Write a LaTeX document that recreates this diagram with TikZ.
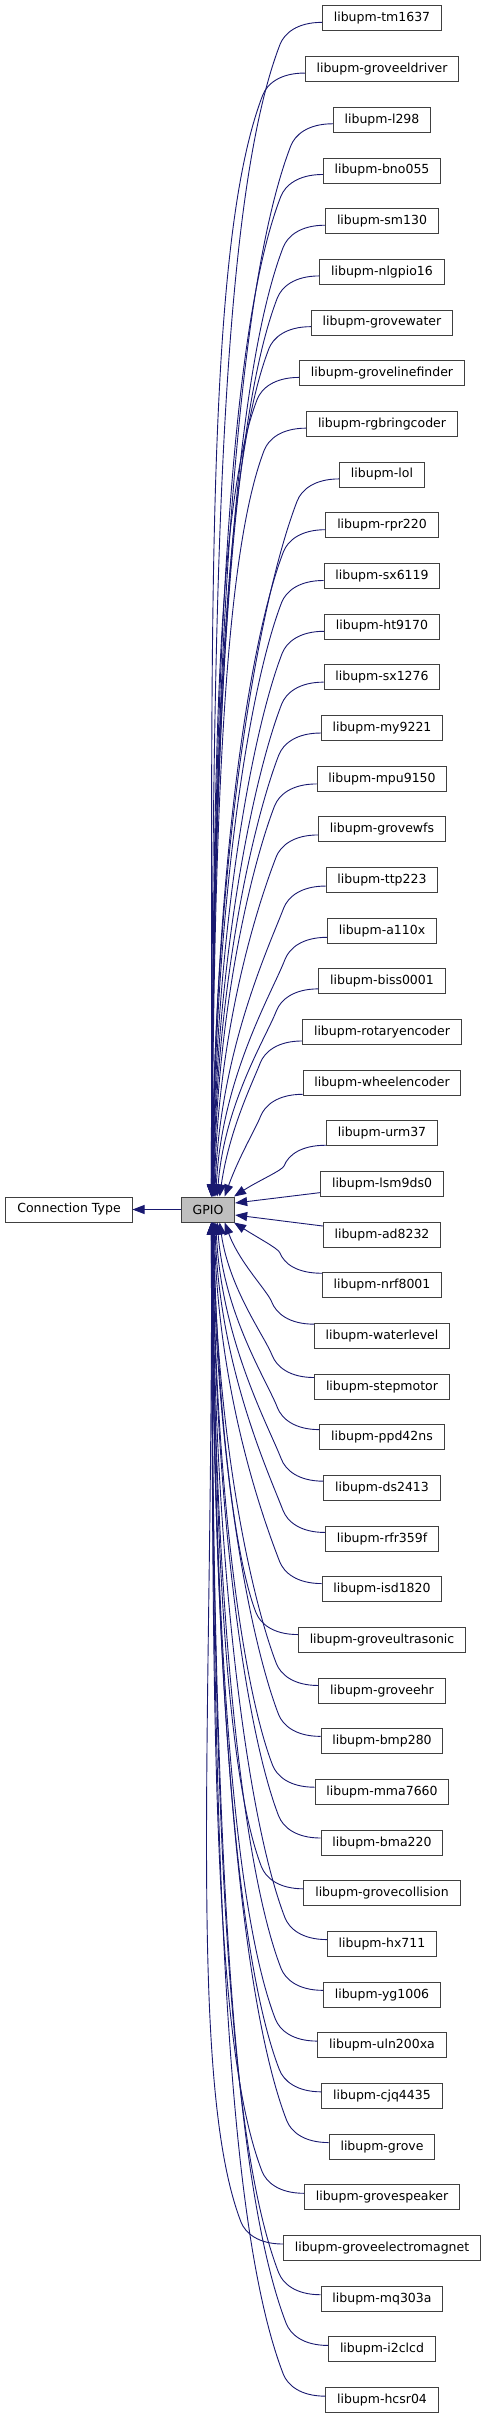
\documentclass[tikz,border=0pt]{standalone}
\usepackage{fontspec}
\setmainfont{DejaVu Sans}
\usetikzlibrary{arrows.meta}
\definecolor{edgeblue}{HTML}{191970}
\definecolor{gpiogray}{HTML}{BFBFBF}

\begin{document}
\begin{tikzpicture}[
    x=1pt, y=-1pt,
    >={Triangle[length=12pt,width=9pt]},
    every node/.style={draw=black!75, line width=1pt, minimum height=25pt,
      inner xsep=11.3pt, inner ysep=0pt, font=\fontsize{12.5}{15}\selectfont},
    dep/.style={->, draw=edgeblue, line width=0.9pt}
]
  \useasboundingbox (0,0) rectangle (488,2419);

  % nodes
  \node (ctype) at (69,1209.5) {Connection Type};
  \node[fill=gpiogray] (gpio) at (208,1209.5) {GPIO};

  % edges
  \draw[dep] (gpio) -- (ctype);

  % modules above GPIO
  \foreach \n [count=\i] in {tm1637, groveeldriver, l298, bno055, sm130, nlgpio16,
      grovewater, grovelinefinder, rgbringcoder, lol, rpr220, sx6119, ht9170,
      sx1276, my9221, mpu9150, grovewfs, ttp223, a110x, biss0001,
      rotaryencoder, wheelencoder, urm37} {
    \pgfmathsetmacro\yc{18.5+(\i-1)*50.67}
    \node (\n) at (382,\yc) {libupm-\n};
    \pgfmathsetmacro\so{min(12,3+1000/(1197-\yc))}
    \pgfmathsetmacro\ys{\yc+\so}
    \pgfmathsetmacro\xo{min(24,1500/(1197-\ys))}
    \pgfmathsetmacro\bh{min(22,0.4*(1197-\ys))}
    \pgfmathsetmacro\dd{1197-\ys-\bh}
    \pgfmathsetmacro\kx{-0.054*\dd}
    \pgfmathsetmacro\ky{0.14*\dd}
    \pgfmathsetmacro\cb{-0.5*\dd}
    \draw[dep] ([yshift=-\so pt]\n.west) .. controls +(-25,0) and +(4.3,-11) .. ++(-42,\bh)
      .. controls +(\kx,\ky) and +(\xo,\cb) .. ([xshift=\xo pt+2pt]gpio.north);
  }

  % modules beside GPIO
  \node (lsm9ds0) at (382,1183.9) {libupm-lsm9ds0};
  \node (ad8232) at (382,1234.6) {libupm-ad8232};
  \draw[dep] ([yshift=-8.7pt]lsm9ds0.west) -- ([yshift=6.5pt]gpio.east);
  \draw[dep] ([yshift=8.6pt]ad8232.west) -- ([yshift=-5.5pt]gpio.east);

  % modules below GPIO
  \foreach \n [count=\i from 26] in {nrf8001, waterlevel, stepmotor, ppd42ns,
      ds2413, rfr359f, isd1820, groveultrasonic, groveehr, bmp280, mma7660,
      bma220, grovecollision, hx711, yg1006, uln200xa, cjq4435, grove,
      grovespeaker, groveelectromagnet, mq303a, i2clcd, hcsr04} {
    \pgfmathsetmacro\yc{18.5+(\i-1)*50.67}
    \node (\n) at (382,\yc) {libupm-\n};
    \pgfmathsetmacro\so{min(12,3+1000/(\yc-1222))}
    \pgfmathsetmacro\ys{\yc-\so}
    \pgfmathsetmacro\xo{min(24,1500/(\ys-1222))}
    \pgfmathsetmacro\bh{-min(22,0.4*(\ys-1222))}
    \pgfmathsetmacro\dd{\ys+\bh-1222}
    \pgfmathsetmacro\kx{-0.054*\dd}
    \pgfmathsetmacro\ky{-0.14*\dd}
    \pgfmathsetmacro\cb{0.5*\dd}
    \draw[dep] ([yshift=\so pt]\n.west) .. controls +(-25,0) and +(4.3,11) .. ++(-42,\bh)
      .. controls +(\kx,\ky) and +(\xo,\cb) .. ([xshift=\xo pt+2pt]gpio.south);
  }
\end{tikzpicture}
\end{document}
